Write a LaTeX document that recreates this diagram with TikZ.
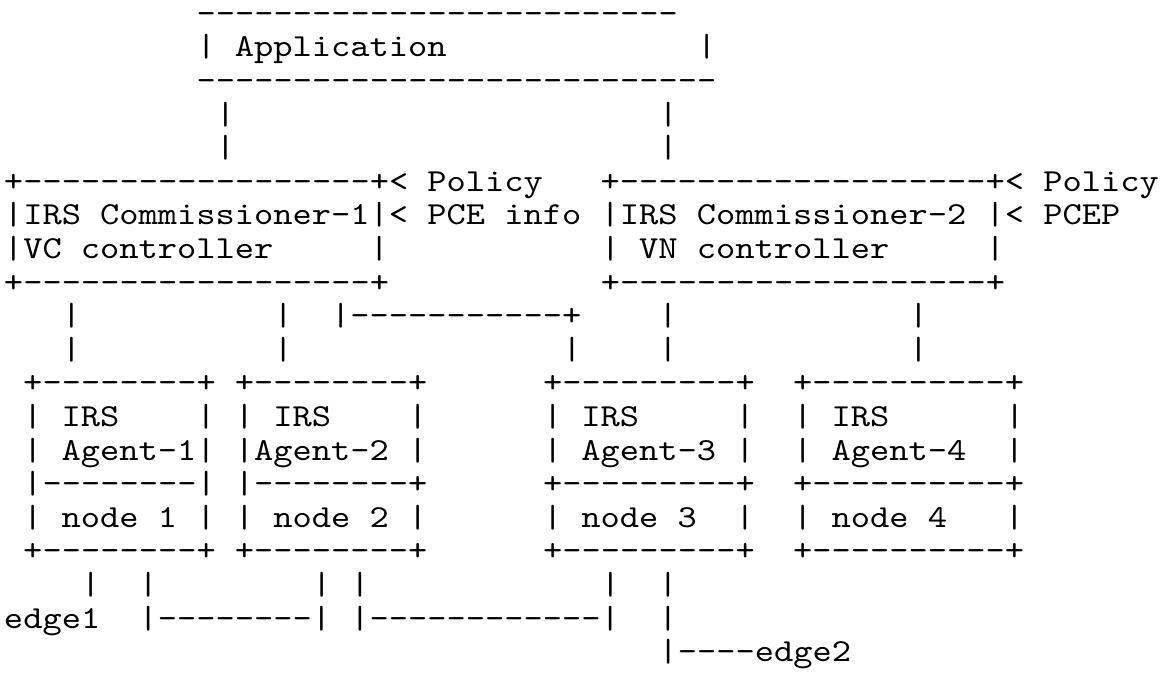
\documentclass[tikz,border=0pt]{standalone}
\usepackage{fontspec}
\setmonofont{lmmono10-regular}[Extension=.otf, FakeStretch=1.143]
\newcommand{\cw}{19.25}
\newcommand{\xo}{4}
\newcommand{\rowy}[1]{57+(#1-2)*33.6}
\tikzset{ascii/.style={anchor=base west, inner sep=0pt, outer sep=0pt,
  font=\ttfamily\fontsize{32.08}{33.6}\selectfont, text=black}}
\begin{document}
\begin{tikzpicture}[x=1pt, y=-1pt]
\useasboundingbox[fill=white] (0,0) rectangle (1163,684);
\node[ascii, text height=12pt] (l1)  at ({\xo+10*\cw},{\rowy{1}})  {-------------------------};
\node[ascii] (l2)  at ({\xo+10*\cw},{\rowy{2}})  {|~Application~~~~~~~~~~~~~|};
\node[ascii] (l3)  at ({\xo+10*\cw},{\rowy{3}})  {---------------------------};
\node[ascii] (l4)  at ({\xo+11*\cw},{\rowy{4}})  {|~~~~~~~~~~~~~~~~~~~~~~|};
\node[ascii] (l5)  at ({\xo+11*\cw},{\rowy{5}})  {|~~~~~~~~~~~~~~~~~~~~~~|};
\node[ascii] (l6)  at ({\xo+0*\cw},{\rowy{6}})   {+------------------+<~Policy~~~+-------------------+<~Policy};
\node[ascii] (l7)  at ({\xo+0*\cw},{\rowy{7}})   {|IRS~Commissioner-1|<~PCE~info~|IRS~Commissioner-2~|<~PCEP};
\node[ascii] (l8)  at ({\xo+0*\cw},{\rowy{8}})   {|VC~controller~~~~~|~~~~~~~~~~~|~VN~controller~~~~~|};
\node[ascii] (l9)  at ({\xo+0*\cw},{\rowy{9}})   {+------------------+~~~~~~~~~~~+-------------------+};
\node[ascii] (l10) at ({\xo+3*\cw},{\rowy{10}})  {|~~~~~~~~~~|~~|-----------+~~~~|~~~~~~~~~~~~|};
\node[ascii] (l11) at ({\xo+3*\cw},{\rowy{11}})  {|~~~~~~~~~~|~~~~~~~~~~~~~~|~~~~|~~~~~~~~~~~~|};
\node[ascii] (l12) at ({\xo+1*\cw},{\rowy{12}})  {+--------+~+--------+~~~~~~+---------+~~+----------+};
\node[ascii] (l13) at ({\xo+1*\cw},{\rowy{13}})  {|~IRS~~~~|~|~IRS~~~~|~~~~~~|~IRS~~~~~|~~|~IRS~~~~~~|};
\node[ascii] (l14) at ({\xo+1*\cw},{\rowy{14}})  {|~Agent-1|~|Agent-2~|~~~~~~|~Agent-3~|~~|~Agent-4~~|};
\node[ascii] (l15) at ({\xo+1*\cw},{\rowy{15}})  {|--------|~|--------+~~~~~~+---------+~~+----------+};
\node[ascii] (l16) at ({\xo+1*\cw},{\rowy{16}})  {|~node~1~|~|~node~2~|~~~~~~|~node~3~~|~~|~node~4~~~|};
\node[ascii] (l17) at ({\xo+1*\cw},{\rowy{17}})  {+--------+~+--------+~~~~~~+---------+~~+----------+};
\node[ascii] (l18) at ({\xo+4*\cw},{\rowy{18}})  {|~~|~~~~~~~~|~|~~~~~~~~~~~~|~~|};
\node[ascii] (l19) at ({\xo+0*\cw},{\rowy{19}})  {edge1~~|--------|~|------------|~~|};
\node[ascii] (l20) at ({\xo+34*\cw},{\rowy{20}}) {|----edge2};
\end{tikzpicture}
\end{document}
